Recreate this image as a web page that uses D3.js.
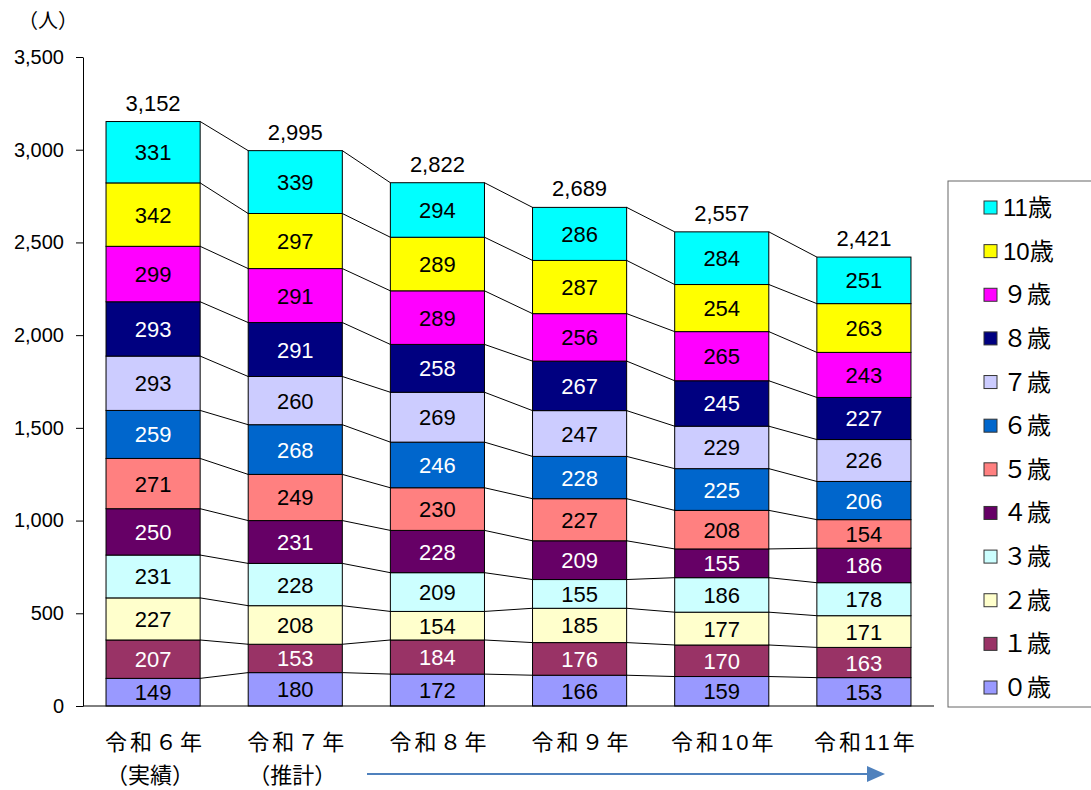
<!DOCTYPE html>
<html>
<head>
<meta charset="utf-8">
<script src="https://cdn.jsdelivr.net/npm/d3@7"></script>
<style>
  body { margin: 0; background: #fff; }
  text { font-family: "Liberation Sans", "Noto Sans CJK JP", sans-serif; }
</style>
</head>
<body>
<svg id="chart" width="1091" height="790"></svg>
<script>
const categories = ["令和６年", "令和７年", "令和８年", "令和９年", "令和10年", "令和11年"];
const subLabels = ["（実績）", "（推計）", "", "", "", ""];
const ages = ["０歳", "１歳", "２歳", "３歳", "４歳", "５歳", "６歳", "７歳", "８歳", "９歳", "10歳", "11歳"];
const colors = ["#9999FF", "#993366", "#FFFFCC", "#CCFFFF", "#660066", "#FF8080",
                "#0066CC", "#CCCCFF", "#000080", "#FF00FF", "#FFFF00", "#00FFFF"];
const labelColors = ["#000", "#fff", "#000", "#000", "#fff", "#000",
                     "#fff", "#000", "#fff", "#000", "#000", "#000"];
// values per year, ordered 0歳 .. 11歳
const r6 = [149, 207, 227, 231, 250, 271, 259, 293, 293, 299, 342, 331];
const r7 = [180, 153, 208, 228, 231, 249, 268, 260, 291, 291, 297, 339];
const r8 = [172, 184, 154, 209, 228, 230, 246, 269, 258, 289, 289, 294];
const r9 = [166, 176, 185, 155, 209, 227, 228, 247, 267, 256, 287, 286];
const r10 = [159, 170, 177, 186, 155, 208, 225, 229, 245, 265, 254, 284];
const r11 = [153, 163, 171, 178, 186, 154, 206, 226, 227, 243, 263, 251];
const yTicks = [0, 500, 1000, 1500, 2000, 2500, 3000, 3500];

const yearValues = [r6, r7, r8, r9, r10, r11];
const rows = categories.map((c, i) => {
  const o = { cat: c };
  ages.forEach((a, j) => o[a] = yearValues[i][j]);
  return o;
});

const svg = d3.select("#chart");
const x = d3.scaleBand().domain(categories).range([83, 934]).paddingInner(0.338).paddingOuter(0.162);
const y = d3.scaleLinear().domain([0, 3500]).range([706, 57]);

const series = d3.stack().keys(ages)(rows);

// connector lines between bar tops
const conn = svg.append("g");
series.forEach(s => {
  for (let i = 0; i < s.length - 1; i++) {
    conn.append("line")
      .attr("x1", x(categories[i]) + x.bandwidth()).attr("y1", y(s[i][1]))
      .attr("x2", x(categories[i + 1])).attr("y2", y(s[i + 1][1]))
      .attr("stroke", "#000").attr("stroke-width", 1);
  }
});

// bars
const layers = svg.append("g").selectAll("g").data(series).enter().append("g")
  .attr("fill", (d, i) => colors[i]);
layers.selectAll("rect").data(d => d).enter().append("rect")
  .attr("x", d => x(d.data.cat))
  .attr("y", d => y(d[1]))
  .attr("width", x.bandwidth())
  .attr("height", d => y(d[0]) - y(d[1]))
  .attr("stroke", "#000").attr("stroke-width", 1);

// value labels
series.forEach((s, k) => {
  svg.append("g").selectAll("text").data(s).enter().append("text")
    .attr("x", d => x(d.data.cat) + x.bandwidth() / 2)
    .attr("y", d => (y(d[0]) + y(d[1])) / 2 + 8)
    .attr("text-anchor", "middle")
    .attr("font-size", 22)
    .attr("fill", labelColors[k])
    .text(d => d[1] - d[0]);
});

// totals
const topLayer = series[series.length - 1];
svg.append("g").selectAll("text").data(topLayer).enter().append("text")
  .attr("x", d => x(d.data.cat) + x.bandwidth() / 2)
  .attr("y", d => y(d[1]) - 11)
  .attr("text-anchor", "middle")
  .attr("font-size", 22)
  .text(d => d3.format(",")(d[1]));

// y axis
const yAxis = svg.append("g").attr("transform", "translate(83,0)")
  .call(d3.axisLeft(y).tickValues(yTicks).tickSize(7).tickSizeOuter(0).tickPadding(12).tickFormat(d3.format(",")));
yAxis.selectAll("text").attr("font-size", 20).attr("fill", "#000");
yAxis.selectAll("line,path").attr("stroke", "#000");

// baseline
svg.append("line").attr("x1", 83).attr("x2", 934).attr("y1", y(0)).attr("y2", y(0)).attr("stroke", "#000");

svg.append("text").attr("x", 48).attr("y", 28).attr("text-anchor", "middle")
  .attr("font-size", 20).text("（人）");

// category labels
const cl = svg.append("g").selectAll("g").data(categories).enter().append("g");
cl.append("text")
  .attr("x", d => x(d) + x.bandwidth() / 2 + 2).attr("y", 750)
  .attr("text-anchor", "middle").attr("font-size", 22).attr("letter-spacing", 3).text(d => d);
cl.append("text")
  .attr("x", d => x(d) + x.bandwidth() / 2 - 3).attr("y", 783)
  .attr("text-anchor", "middle").attr("font-size", 22).text((d, i) => subLabels[i]);

// arrow
svg.append("line").attr("x1", 367).attr("x2", 870).attr("y1", 774).attr("y2", 774)
  .attr("stroke", "#4F81BD").attr("stroke-width", 2);
svg.append("path").attr("d", "M867,766L885,774L867,782Z").attr("fill", "#4F81BD");

// legend
const lg = svg.append("g");
lg.append("rect").attr("x", 948).attr("y", 181).attr("width", 150).attr("height", 526)
  .attr("fill", "#fff").attr("stroke", "#666").attr("stroke-width", 1);
const legendAges = ages.slice().reverse();
const ly = d3.scalePoint().domain(legendAges).range([207, 687]);
const li = lg.selectAll("g.item").data(legendAges).enter().append("g").attr("class", "item")
  .attr("transform", d => `translate(984,${ly(d)})`);
li.append("rect").attr("x", 0).attr("y", -6).attr("width", 13).attr("height", 13)
  .attr("fill", d => colors[ages.indexOf(d)]).attr("stroke", "#333");
li.append("text").attr("x", 19).attr("y", 9).attr("font-size", 24).text(d => d);
</script>
</body>
</html>
